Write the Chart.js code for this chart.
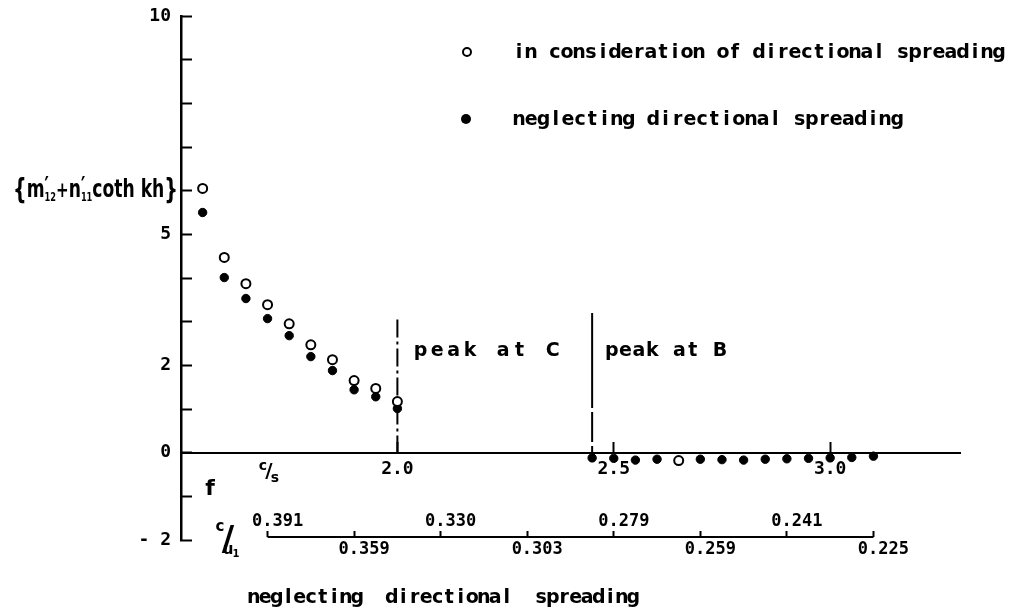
<!DOCTYPE html>
<html>
<head>
<meta charset="utf-8">
<script src="https://cdn.jsdelivr.net/npm/chart.js@4.4.1/dist/chart.umd.min.js"></script>
<style>
  html, body { margin: 0; padding: 0; background: #fff; }
</style>
</head>
<body>
<canvas id="chart" width="1017" height="612"></canvas>
<script>
// frequency f (c/s) of the computed points
const freqLow = [1.55, 1.60, 1.65, 1.70, 1.75, 1.80, 1.85, 1.90, 1.95, 2.00];
const withSpreading = [6.05, 4.47, 3.87, 3.39, 2.95, 2.47, 2.13, 1.65, 1.47, 1.17];
const noSpreading = [5.50, 4.01, 3.53, 3.07, 2.68, 2.20, 1.88, 1.44, 1.28, 1.01];

const freqHigh = [2.45, 2.50, 2.55, 2.60, 2.70, 2.75, 2.80, 2.85, 2.90, 2.95, 3.00, 3.05, 3.10];
const noSpreadingHigh = [-0.12, -0.13, -0.17, -0.15, -0.15, -0.16, -0.17, -0.15, -0.14, -0.13, -0.12, -0.11, -0.08];
const freqHighOpen = [2.65];
const withSpreadingHigh = [-0.18];

const seriesNames = ['in consideration of directional spreading', 'neglecting directional spreading'];

// axes
const yLabelled = [10, 5, 2, 0, -2];
const fTicks = [2.0, 2.5, 3.0];
const cuUpperAt = [1.7, 2.1, 2.5, 2.9];
const cuUpper = ['0.391', '0.330', '0.279', '0.241'];
const cuLowerAt = [1.9, 2.3, 2.7, 3.1];
const cuLower = ['0.359', '0.303', '0.259', '0.225'];
const cuLevel = -1.93;

// peaks
const peakC = 2.0, peakB = 2.45;
const peakCRange = [3.05, 0];
const peakBRange = [3.2, -0.15];

const MONO = '"DejaVu Sans Mono", monospace';
const SANS = '"DejaVu Sans", sans-serif';

function pts(xs, ys) {
  return xs.map((x, i) => ({x: x, y: ys[i]}));
}

function spaced(ctx, text, x, y, step) {
  ctx.textAlign = 'center';
  for (let i = 0; i < text.length; i++)
    ctx.fillText(text[i], x + step * i + step / 2, y);
}

// {m'12 + n'11 coth kh}
function yTitle(ctx, right, base, width) {
  const parts = [
    ['{', 28, 2, true], ['m', 25, 0, true], ['\u2032', 24, -3, false], ['12', 12, 4, true],
    ['+', 22, 0, true], ['n', 25, 0, true], ['\u2032', 24, -3, false], ['11', 12, 4, true],
    ['coth kh', 25, 0, true], ['}', 28, 2, true]
  ];
  ctx.textAlign = 'left';
  let total = 0;
  parts.forEach(p => {
    ctx.font = 'bold ' + p[1] + 'px ' + SANS;
    if (p[3]) total += ctx.measureText(p[0]).width;
  });
  const sx = width / total;
  ctx.save();
  ctx.translate(right - width, base);
  ctx.scale(sx, 1);
  let x = 0;
  parts.forEach(p => {
    ctx.font = 'bold ' + p[1] + 'px ' + SANS;
    ctx.fillText(p[0], x, p[2]);
    if (p[3]) x += ctx.measureText(p[0]).width;
  });
  ctx.restore();
}

const lettering = {
  id: 'lettering',
  afterDraw(chart) {
    const ctx = chart.ctx;
    const xs = chart.scales.x, ys = chart.scales.y;
    ctx.save();
    ctx.fillStyle = '#000';
    ctx.strokeStyle = '#000';
    ctx.textBaseline = 'alphabetic';

    // legend
    ctx.lineWidth = 2;
    ctx.beginPath(); ctx.arc(467, 52, 4, 0, Math.PI * 2); ctx.stroke();
    ctx.beginPath(); ctx.arc(466, 119, 5, 0, Math.PI * 2); ctx.fill();
    ctx.font = 'bold 19px ' + SANS;
    spaced(ctx, seriesNames[0], 513, 58, 12);
    spaced(ctx, seriesNames[1], 513, 125, 12.2);

    // peak notes
    spaced(ctx, 'peak at C', xs.getPixelForValue(peakC) + 15, ys.getPixelForValue(2.22), 16.5);
    spaced(ctx, 'peak at B', xs.getPixelForValue(peakB) + 13, ys.getPixelForValue(2.22), 13.5);

    // y title
    yTitle(ctx, 178, 197, 165);

    // f  c/s
    ctx.textAlign = 'center';
    ctx.textBaseline = 'middle';
    ctx.font = 'bold 22px ' + SANS;
    ctx.fillText('f', 210, 489);
    ctx.font = 'bold 14px ' + SANS;
    ctx.fillText('c', 263, 466);
    ctx.fillText('s', 275, 478);
    ctx.font = 'bold 20px ' + SANS;
    ctx.fillText('/', 269, 472);

    // c/U1
    ctx.font = 'bold 15px ' + SANS;
    ctx.fillText('c', 220, 527);
    ctx.font = 'bold 34px ' + SANS;
    ctx.fillText('/', 228, 541);
    ctx.font = 'bold 15px ' + SANS;
    ctx.fillText('u', 228, 550);
    ctx.font = 'bold 10px ' + SANS;
    ctx.fillText('1', 236, 554);

    // caption under the c/U1 scale
    ctx.textBaseline = 'alphabetic';
    ctx.font = 'bold 19px ' + SANS;
    spaced(ctx, 'neglecting  directional  spreading', 248, 603, 11.5);
    ctx.restore();
  }
};

const tickFont = {family: MONO, size: 18, weight: 'bold'};
const cuFont = {family: MONO, size: 17, weight: 'bold'};

const data = {
  datasets: [
    {
      label: seriesNames[0],
      data: pts(freqLow, withSpreading).concat(pts(freqHighOpen, withSpreadingHigh)),
      pointStyle: 'circle', pointRadius: 4.5, pointBorderWidth: 2,
      pointBackgroundColor: '#fff', pointBorderColor: '#000'
    },
    {
      label: seriesNames[1],
      data: pts(freqLow, noSpreading).concat(pts(freqHigh, noSpreadingHigh)),
      pointStyle: 'circle', pointRadius: 4.2, pointBorderWidth: 1,
      pointBackgroundColor: '#000', pointBorderColor: '#000'
    },
    {
      label: 'peak at C',
      data: pts([peakC, peakC], peakCRange),
      showLine: true, pointRadius: 0, borderColor: '#000', borderWidth: 2,
      borderDash: [18, 4, 3, 4]
    },
    {
      label: 'peak at B',
      data: pts([peakB, peakB], peakBRange),
      showLine: true, pointRadius: 0, borderColor: '#000', borderWidth: 2,
      borderDash: [95, 4, 30, 4]
    },
    {
      label: 'c/U1 scale',
      data: pts([cuUpperAt[0], cuLowerAt[cuLowerAt.length - 1]], [cuLevel, cuLevel]),
      showLine: true, pointRadius: 0, borderColor: '#000', borderWidth: 2
    }
  ]
};

const config = {
  type: 'scatter',
  data: data,
  options: {
    responsive: false,
    animation: false,
    devicePixelRatio: 1,
    layout: { padding: { top: 16, right: 57, bottom: 72, left: 0 } },
    plugins: { legend: { display: false }, tooltip: { enabled: false } },
    scales: {
      x: {
        type: 'linear', axis: 'x', position: { y: 0 }, min: 1.5, max: 3.3,
        afterBuildTicks: s => { s.ticks = fTicks.map(v => ({value: v})); },
        ticks: { callback: v => v.toFixed(1), font: tickFont, color: '#000', padding: 18, maxRotation: 0, autoSkip: false },
        grid: { drawOnChartArea: false, tickLength: -12, tickWidth: 2, tickColor: '#000' },
        border: { color: '#000', width: 2 }
      },
      xu: {
        type: 'linear', axis: 'x', position: { y: cuLevel }, min: 1.5, max: 3.3,
        afterBuildTicks: s => { s.ticks = cuUpperAt.map(v => ({value: v})); },
        ticks: { callback: (v, i) => cuUpper[i], font: cuFont, color: '#000', padding: -20, labelOffset: 10, maxRotation: 0, autoSkip: false },
        grid: { drawOnChartArea: false, tickLength: -6, tickWidth: 2, tickColor: '#000' },
        border: { display: false }
      },
      xl: {
        type: 'linear', axis: 'x', position: { y: cuLevel }, min: 1.5, max: 3.3,
        afterBuildTicks: s => { s.ticks = cuLowerAt.map(v => ({value: v})); },
        ticks: { callback: (v, i) => cuLower[i], font: cuFont, color: '#000', padding: 8, labelOffset: 10, maxRotation: 0, autoSkip: false },
        grid: { drawOnChartArea: false, tickLength: -6, tickWidth: 2, tickColor: '#000' },
        border: { display: false }
      },
      y: {
        type: 'linear', position: 'left', min: -2, max: 10,
        ticks: {
          stepSize: 1, font: tickFont, color: '#000', padding: 21, autoSkip: false,
          callback: v => yLabelled.includes(v) ? (v < 0 ? '- ' + Math.abs(v) : String(v)) : ''
        },
        grid: { drawOnChartArea: false, tickLength: -11, tickWidth: 2, tickColor: '#000' },
        border: { color: '#000', width: 2.5 },
        afterFit: s => { s.width = 181; s.paddingTop = 0; s.paddingBottom = 0; }
      }
    }
  },
  plugins: [lettering]
};

new Chart(document.getElementById('chart').getContext('2d'), config);
</script>
</body>
</html>
